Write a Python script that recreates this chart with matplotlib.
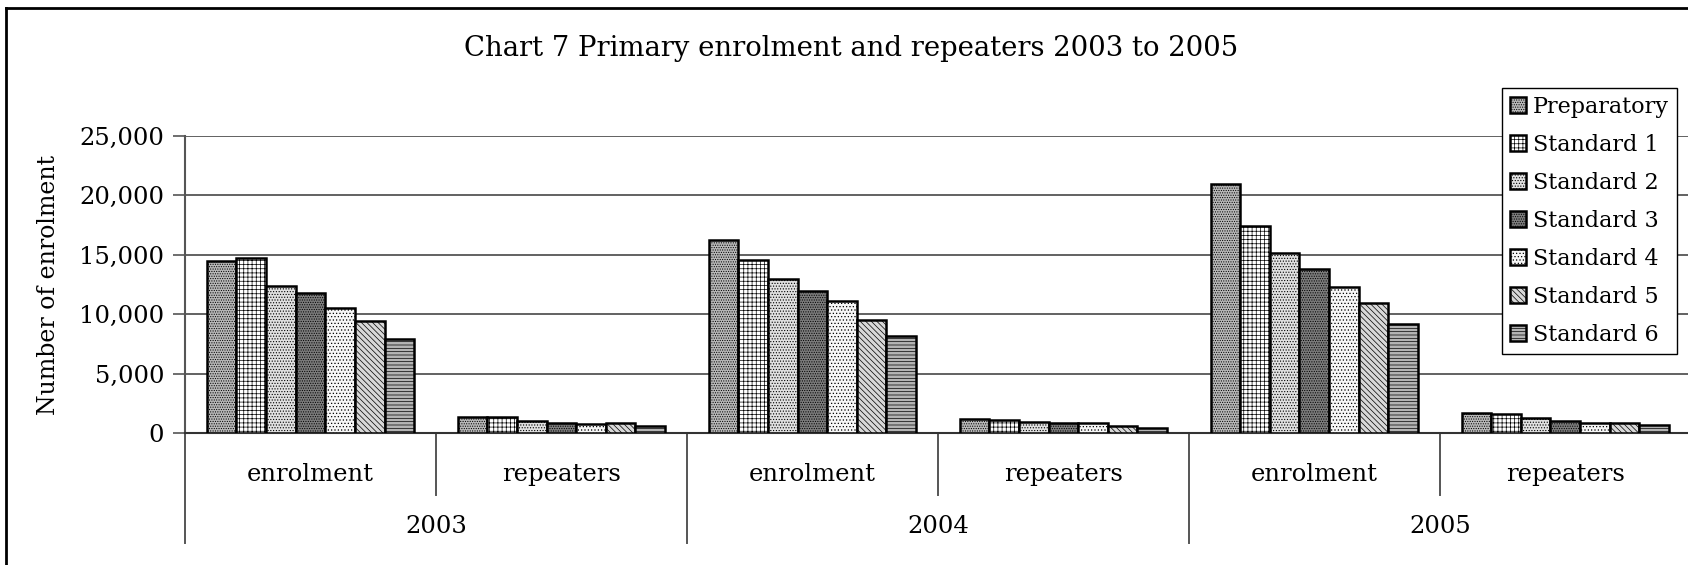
import matplotlib.pyplot as plt
import matplotlib.transforms as mtransforms
from matplotlib.ticker import FuncFormatter
import numpy as np

plt.rcParams['font.family'] = ['DejaVu Serif']
plt.rcParams['hatch.linewidth'] = 0.5

# datos
anios = ['2003', '2004', '2005']
tipos = ['enrolment', 'repeaters']
series = ['Preparatory', 'Standard 1', 'Standard 2', 'Standard 3',
          'Standard 4', 'Standard 5', 'Standard 6']
# cada lista: 2003 enrolment, 2003 repeaters, 2004 enrolment, 2004 repeaters, 2005 enrolment, 2005 repeaters
preparatory = [14500, 1400, 16250, 1230, 20990, 1710]
standard_1 = [14770, 1340, 14550, 1120, 17430, 1600]
standard_2 = [12360, 1030, 13000, 950, 15190, 1290]
standard_3 = [11830, 890, 11970, 840, 13840, 1030]
standard_4 = [10560, 780, 11100, 840, 12300, 890]
standard_5 = [9420, 840, 9530, 640, 10960, 840]
standard_6 = [7930, 610, 8180, 450, 9190, 720]
valores = [preparatory, standard_1, standard_2, standard_3,
           standard_4, standard_5, standard_6]

colores = ['#b8b8b8', '#ffffff', '#e0e0e0', '#7c7c7c', '#f6f6f6', '#d8d8d8', '#b4b4b4']
tramas = ['.......', '++++', '......', '.......', '.....', '\\\\\\\\\\\\', '-----']

fig = plt.figure(figsize=(16.88, 5.65), dpi=100)
ax = fig.add_axes([0.1096, 0.2331, 0.8920, 0.5262])

n = len(series)
ancho = 0.118
x = np.arange(len(anios) * len(tipos))
for i in range(n):
    pos = x + (i - (n - 1) / 2) * ancho
    ax.bar(pos, valores[i], ancho, color=colores[i], hatch=tramas[i],
           edgecolor='black', linewidth=1.8, label=series[i], zorder=3)

ax.set_xlim(-0.5, len(x) - 0.5)
ax.set_ylim(0, 25000)
ax.set_yticks(np.arange(0, 25001, 5000))
ax.yaxis.set_major_formatter(FuncFormatter(lambda v, p: f'{int(v):,}'))
ax.tick_params(axis='y', labelsize=17.5, length=9, width=1.2, color='#555555', pad=6)
ax.set_xticks([])
ax.grid(axis='y', color='#555555', linewidth=1.3, zorder=0)
for s in ['top', 'right']:
    ax.spines[s].set_visible(False)
ax.spines['left'].set_color('#555555')
ax.spines['left'].set_linewidth(1.5)
ax.spines['bottom'].set_color('#333333')
ax.spines['bottom'].set_linewidth(1.5)
ax.set_ylabel('Number of enrolment', fontsize=17, labelpad=14)

# etiquetas del eje de categorias en dos niveles
trans = mtransforms.blended_transform_factory(ax.transData, ax.transAxes)
for k in range(len(x)):
    ax.text(x[k], -0.137, tipos[k % 2], transform=trans, ha='center', va='center', fontsize=17.5)
for j, a in enumerate(anios):
    ax.text(2 * j + 0.5, -0.312, a, transform=trans, ha='center', va='center', fontsize=17.5)
for b in np.arange(-0.5, len(x), 1.0):
    bajo = -0.369 if int(b + 0.5) % 2 == 0 else -0.2075
    ax.plot([b, b], [0, bajo], transform=trans, color='#555555', linewidth=1.4, clip_on=False)

leg = ax.legend(loc='upper left', bbox_to_anchor=(0.8747, 1.1615), fontsize=16,
                frameon=True, fancybox=False, edgecolor='black', framealpha=1,
                handlelength=0.75, handleheight=0.75, handletextpad=0.3,
                labelspacing=0.72, borderpad=0.35, borderaxespad=0)
leg.get_frame().set_linewidth(1.0)

fig.text(0.504, 0.915, 'Chart 7 Primary enrolment and repeaters 2003 to 2005',
         ha='center', va='center', fontsize=19.8)

# marco exterior (solo se ve izquierda y arriba)
fig.add_artist(plt.Line2D([0.0036, 0.0036], [0, 0.986], color='black', linewidth=2))
fig.add_artist(plt.Line2D([0.0036, 1], [0.986, 0.986], color='black', linewidth=2))

fig.savefig('out.png', dpi=100)
